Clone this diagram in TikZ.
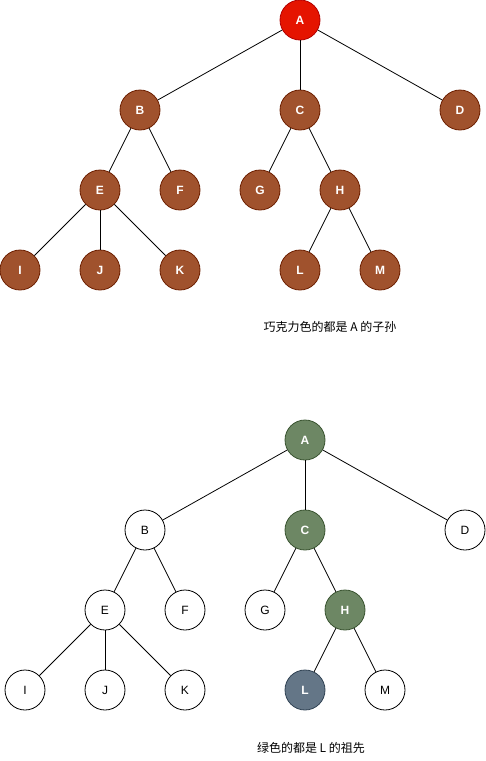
\documentclass[tikz,border=0pt]{standalone}
\usepackage{fontspec}
\setmainfont{Liberation Sans}
\newfontfamily\cjk{Noto Sans CJK SC}
\usepackage{tikz}
\usetikzlibrary{positioning}
\definecolor{nodered}{HTML}{E51400}
\definecolor{nodereddark}{HTML}{B20000}
\definecolor{choco}{HTML}{A0522D}
\definecolor{chocodark}{HTML}{6D1F00}
\definecolor{olive}{HTML}{6D8764}
\definecolor{olivedark}{HTML}{3A5431}
\definecolor{slate}{HTML}{647687}
\definecolor{slatedark}{HTML}{314354}

\begin{document}
\begin{tikzpicture}[x=1pt,y=-1pt,line width=0.8pt,
  every node/.style={font=\fontsize{12}{14}\selectfont},
  vtx/.style={circle,draw=black,fill=white,minimum size=40pt,inner sep=0pt},
  hot/.style={vtx,fill=nodered,draw=nodereddark,text=white,font=\fontsize{12}{14}\selectfont\bfseries},
  kid/.style={vtx,fill=choco,draw=chocodark,text=white,font=\fontsize{12}{14}\selectfont\bfseries},
  anc/.style={vtx,fill=olive,draw=olivedark,text=white,font=\fontsize{12}{14}\selectfont\bfseries},
  me/.style={vtx,fill=slate,draw=slatedark,text=white,font=\fontsize{12}{14}\selectfont\bfseries}]
\useasboundingbox (0,0) rectangle (486,761);
% descendants of A
\node[hot] (a1) at (300,20) {A};
\node[kid] (b1) at (140,110) {B};
\node[kid] (c1) at (300,110) {C};
\node[kid] (d1) at (460,110) {D};
\node[kid] (e1) at (100,190) {E};
\node[kid] (f1) at (180,190) {F};
\node[kid] (g1) at (260,190) {G};
\node[kid] (h1) at (340,190) {H};
\node[kid] (i1) at (20,270) {I};
\node[kid] (j1) at (100,270) {J};
\node[kid] (k1) at (180,270) {K};
\node[kid] (l1) at (300,270) {L};
\node[kid] (m1) at (380,270) {M};
\foreach \p/\c in {a1/b1,a1/c1,a1/d1,b1/e1,b1/f1,c1/g1,c1/h1,e1/i1,e1/j1,e1/k1,h1/l1,h1/m1}
  \draw (\p)--(\c);
\node (cap1) at (330,327) {\cjk 巧克力色的都是 A 的子孙};
% ancestors of L
\node[anc] (a2) at (305,440) {A};
\node[vtx] (b2) at (145,530) {B};
\node[anc] (c2) at (305,530) {C};
\node[vtx] (d2) at (465,530) {D};
\node[vtx] (e2) at (105,610) {E};
\node[vtx] (f2) at (185,610) {F};
\node[vtx] (g2) at (265,610) {G};
\node[anc] (h2) at (345,610) {H};
\node[vtx] (i2) at (25,690) {I};
\node[vtx] (j2) at (105,690) {J};
\node[vtx] (k2) at (185,690) {K};
\node[me] (l2) at (305,690) {L};
\node[vtx] (m2) at (385,690) {M};
\foreach \p/\c in {a2/b2,a2/c2,a2/d2,b2/e2,b2/f2,c2/g2,c2/h2,e2/i2,e2/j2,e2/k2,h2/l2,h2/m2}
  \draw (\p)--(\c);
\node (cap2) at (311,748) {\cjk 绿色的都是 L 的祖先};
\end{tikzpicture}
\end{document}
